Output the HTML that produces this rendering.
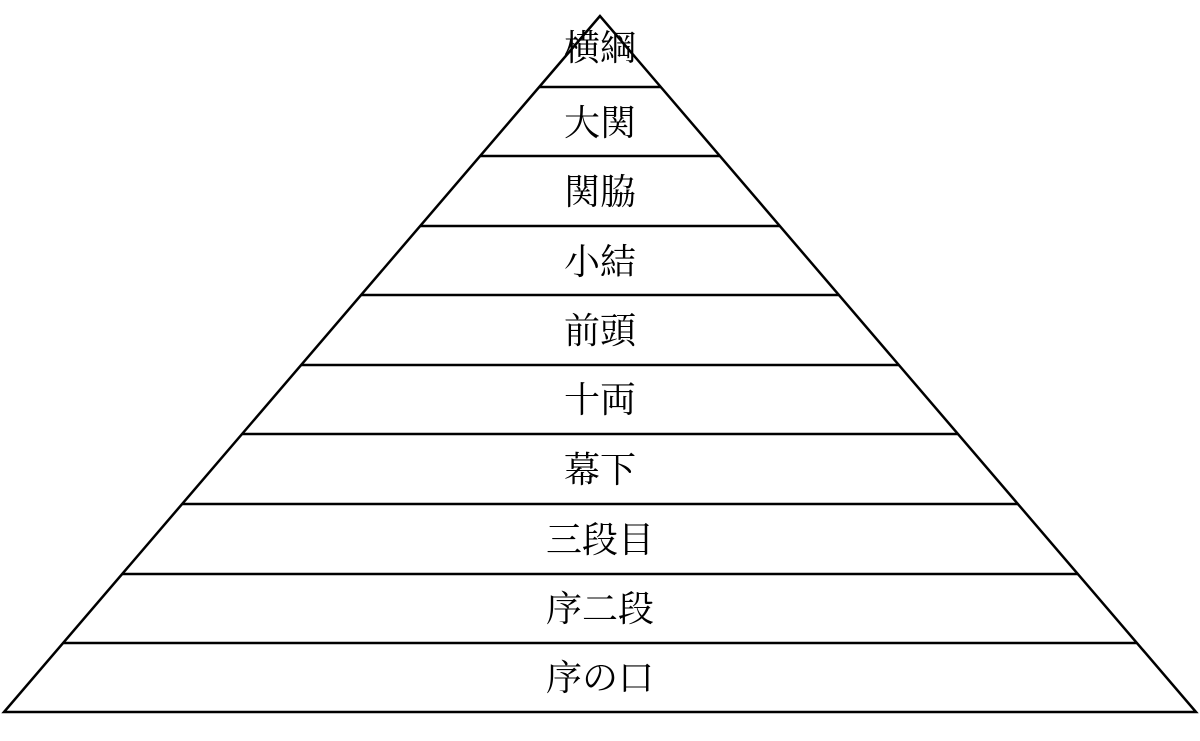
<!DOCTYPE html>
<html><head><meta charset="utf-8"><style>html,body{margin:0;padding:0;background:#fff}svg{display:block}</style></head>
<body>
<svg width="1200" height="741" viewBox="0 0 1200 741" xmlns="http://www.w3.org/2000/svg">
<g stroke="#000" stroke-width="2.5" fill="none">
<polygon points="600,16 4,712 1196,712" stroke-linejoin="miter"/>
<line x1="539" y1="87" x2="661" y2="87"/>
<line x1="480" y1="156" x2="720" y2="156"/>
<line x1="420" y1="226" x2="780" y2="226"/>
<line x1="361" y1="295" x2="839" y2="295"/>
<line x1="301" y1="365" x2="899" y2="365"/>
<line x1="242" y1="434" x2="958" y2="434"/>
<line x1="182" y1="504" x2="1018" y2="504"/>
<line x1="122" y1="574" x2="1078" y2="574"/>
<line x1="63" y1="643" x2="1137" y2="643"/>
</g>
<g font-family="'Liberation Serif','Noto Serif CJK SC',serif" font-size="36" text-anchor="middle" fill="#000">
<text x="600" y="60">横綱</text>
<text x="600" y="135">大関</text>
<text x="600" y="204">関脇</text>
<text x="600" y="274">小結</text>
<text x="600" y="343">前頭</text>
<text x="600" y="412">十両</text>
<text x="600" y="482">幕下</text>
<text x="600" y="552">三段目</text>
<text x="600" y="621">序二段</text>
<text x="600" y="690">序の口</text>
</g>
</svg>
</body></html>
